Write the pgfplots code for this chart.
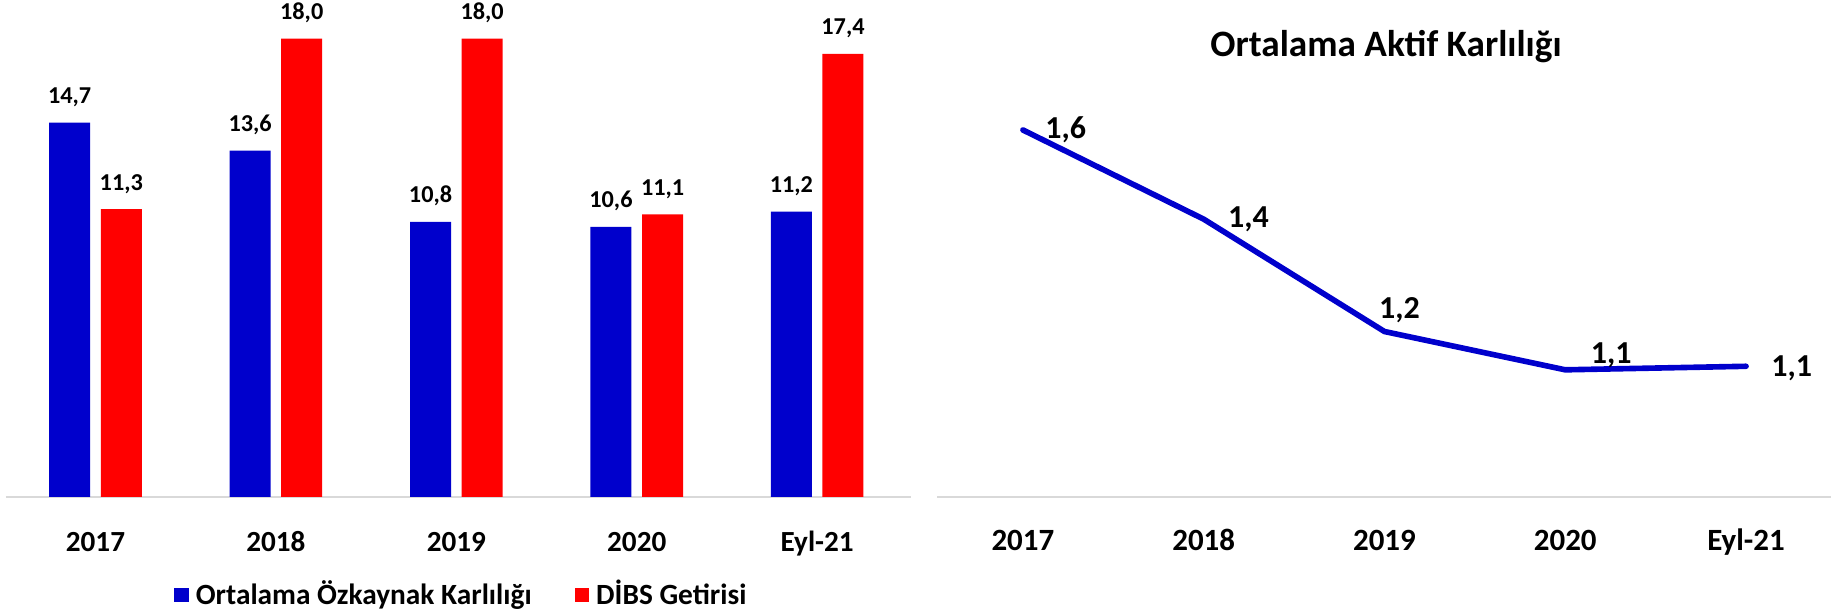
\documentclass[border=0pt]{standalone}
\usepackage{pgfplots}
\pgfplotsset{compat=1.18}
\usepackage{fontspec}
\setmainfont{Carlito}
\definecolor{barblue}{RGB}{0,0,204}
\definecolor{barred}{RGB}{255,0,0}
\definecolor{axisgray}{RGB}{217,217,217}
\definecolor{leadgray}{RGB}{166,166,166}
\begin{document}
\begin{tikzpicture}
\path[use as bounding box] (0,0) rectangle (183.7mm,61.3mm);
% ---------- left: bar chart ----------
\begin{axis}[
  at={(0.6mm,11.62mm)}, anchor=south west,
  scale only axis, width=90.5mm, height=48.36mm,
  xmin=-0.496, xmax=4.52, ymin=0, ymax=19,
  clip=false,
  axis x line=bottom, axis y line=none,
  axis line style={draw=axisgray, line width=0.2mm, -},
  xtick={0,1,2,3,4}, xticklabels={2017,2018,2019,2020,Eyl-21},
  xtick style={draw=none}, ytick=\empty,
  xticklabel style={font=\fontsize{8.3}{10}\selectfont\bfseries, anchor=base, yshift=-4.0mm},
  ybar=1.06mm, bar width=4.1mm,
  nodes near coords,
  nodes near coords style={font=\fontsize{6.9}{8}\selectfont\bfseries, anchor=base, yshift=1.9mm, text=black},
  /pgf/number format/fixed, /pgf/number format/fixed zerofill,
  /pgf/number format/precision=1, /pgf/number format/use comma,
  /pgf/number format/assume math mode=true,
  legend columns=2,
  legend style={at={(0.506,-0.203)}, anchor=center, draw=none, fill=none,
    font=\fontsize{8.35}{10}\selectfont\bfseries,
    /tikz/every even column/.append style={column sep=3.6mm}},
  legend image code/.code={\fill[#1] (0mm,-0.72mm) rectangle (1.45mm,0.72mm);},
]
\addplot[fill=barblue, draw=none] coordinates {(0,14.7) (1,13.6) (2,10.8) (3,10.6) (4,11.2)};
\addlegendentry{Ortalama Özkaynak Karlılığı}
\addplot[fill=barred, draw=none] coordinates {(0,11.3) (1,18.0) (2,18.0) (3,11.1) (4,17.4)};
\addlegendentry{DİBS Getirisi}
\end{axis}
% ---------- right: line chart ----------
\begin{axis}[
  at={(93.7mm,11.62mm)}, anchor=south west,
  scale only axis, width=89.4mm, height=45mm,
  xmin=-0.475, xmax=4.47, ymin=0.872, ymax=1.765,
  clip=false,
  axis x line=bottom, axis y line=none,
  axis line style={draw=axisgray, line width=0.2mm, -},
  xtick={0,1,2,3,4}, xticklabels={2017,2018,2019,2020,Eyl-21},
  xtick style={draw=none}, ytick=\empty,
  xticklabel style={font=\fontsize{8.8}{10}\selectfont\bfseries, anchor=base, yshift=-4.6mm},
]
\addplot[color=barblue, line width=1.6pt, mark=none, line join=round, line cap=round] coordinates {(0,1.6) (1,1.423) (2,1.2) (3,1.124) (4,1.131)};
\draw[leadgray, line width=0.35pt] (axis cs:3,1.124) ++(0,0.1mm) -- ++(0.5mm,1.5mm) -- ++(1.2mm,0);
\begin{scope}[every node/.style={font=\fontsize{9.1}{10}\selectfont\bfseries}]
\node[anchor=west, xshift=1.0mm] at (axis cs:0,1.6) {1,6};
\node[anchor=west, xshift=1.2mm] at (axis cs:1,1.423) {1,4};
\node[anchor=center, xshift=1.5mm, yshift=2.1mm] at (axis cs:2,1.2) {1,2};
\node[anchor=center, xshift=4.6mm, yshift=1.5mm] at (axis cs:3,1.124) {1,1};
\node[anchor=west, xshift=1.3mm, yshift=-0.15mm] at (axis cs:4,1.131) {1,1};
\end{scope}
\end{axis}
\node[font=\fontsize{10.6}{12}\selectfont\bfseries] at (138.6mm,56.6mm) {Ortalama Aktif Karlılığı};
\end{tikzpicture}
\end{document}
